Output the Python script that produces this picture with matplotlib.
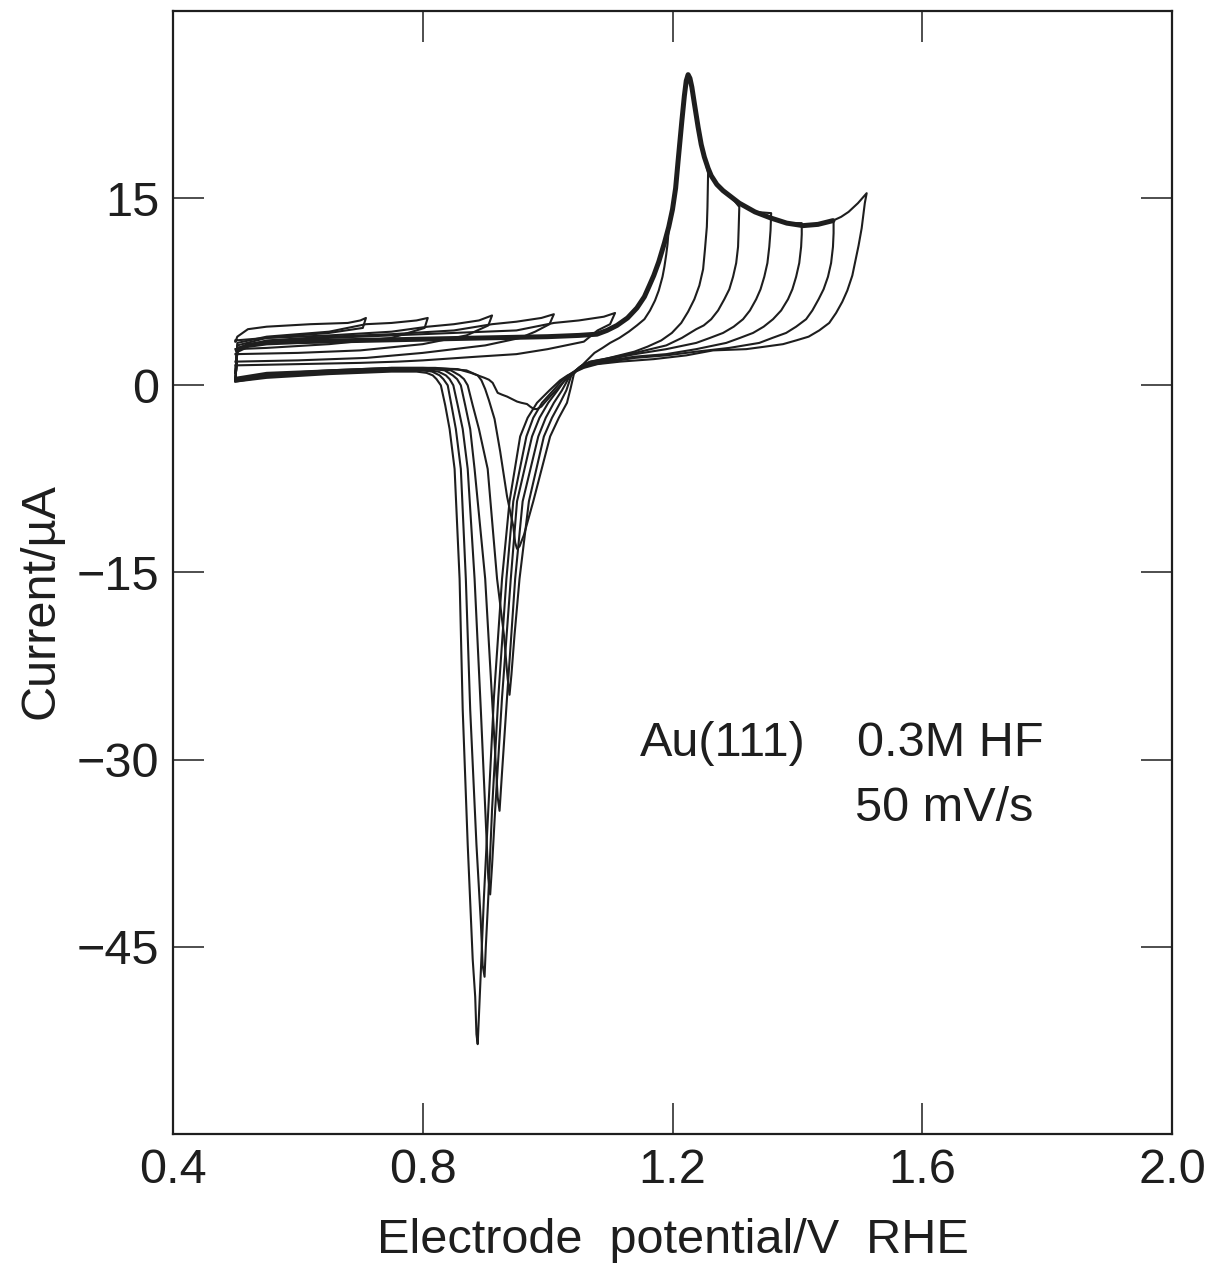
import matplotlib
matplotlib.use("Agg")
import matplotlib.pyplot as plt

plt.rcParams["font.family"] = ["Liberation Sans", "DejaVu Sans"]
plt.rcParams["axes.unicode_minus"] = True

# ---- data: (E / V RHE, I / uA) ----
X_TICKS = [0.4, 0.8, 1.2, 1.6, 2.0]
X_TICKLABELS = ["0.4", "0.8", "1.2", "1.6", "2.0"]
Y_TICKS = [15, 0, -15, -30, -45]
Y_TICKLABELS = ["15", "0", "\u221215", "\u221230", "\u221245"]

# positive-going sweep shared by the cycles that reach the oxide region
ANODIC = [(0.500, 0.4), (0.503, 2.8), (0.52, 3.2), (0.55, 3.4), (0.60, 3.5), (0.70, 3.6),
          (0.80, 3.7), (0.90, 3.8), (1.00, 3.9), (1.05, 4.0), (1.079, 4.1), (1.095, 4.4),
          (1.111, 4.8), (1.128, 5.4), (1.143, 6.2), (1.155, 7.1), (1.163, 8.0), (1.170, 8.8),
          (1.178, 9.9), (1.187, 11.4), (1.194, 12.7), (1.200, 14.1), (1.205, 15.8),
          (1.209, 18.0), (1.212, 19.6), (1.215, 21.2), (1.219, 23.2), (1.222, 24.4),
          (1.225, 24.9), (1.228, 24.6), (1.231, 23.9), (1.235, 22.6), (1.241, 20.7),
          (1.246, 19.3), (1.251, 18.3), (1.257, 17.4), (1.262, 16.8), (1.271, 16.1),
          (1.281, 15.6), (1.294, 15.1), (1.307, 14.6), (1.332, 13.9), (1.358, 13.4),
          (1.383, 13.0), (1.409, 12.8), (1.433, 12.9), (1.457, 13.2), (1.470, 13.5),
          (1.482, 13.9), (1.497, 14.6), (1.511, 15.4)]

# negative-going sweeps, one per upper potential limit
REV_1511 = [(1.511, 15.4), (1.508, 14.6), (1.503, 12.6), (1.498, 11.2), (1.488, 8.8),
            (1.480, 7.6), (1.472, 6.7), (1.462, 5.8), (1.451, 5.0), (1.435, 4.4),
            (1.418, 3.9), (1.398, 3.6), (1.377, 3.3), (1.348, 3.1), (1.318, 2.9),
            (1.265, 2.8), (1.222, 2.4), (1.170, 2.1), (1.116, 1.9), (1.080, 1.7),
            (1.058, 1.4), (1.045, 1.1), (1.032, 0.8), (1.020, 0.4), (1.003, -0.4),
            (0.983, -1.4), (0.968, -2.6), (0.956, -4.1), (0.939, -9.3), (0.927, -15.5),
            (0.914, -25.0), (0.905, -34.0), (0.898, -41.0), (0.893, -47.0), (0.890, -50.5),
            (0.888, -52.8), (0.886, -52.0), (0.884, -49.0), (0.880, -46.0), (0.872, -36.8),
            (0.864, -26.0), (0.859, -15.5), (0.851, -6.7), (0.843, -3.5), (0.836, -1.6),
            (0.829, 0.0), (0.822, 0.5), (0.816, 0.8), (0.806, 1.0), (0.790, 1.1),
            (0.75, 1.1), (0.65, 0.9), (0.55, 0.6), (0.50, 0.3)]

REV_1458 = [(1.458, 13.2), (1.458, 12.2), (1.457, 11.1), (1.454, 9.8), (1.449, 8.7),
            (1.442, 7.7), (1.434, 6.9), (1.424, 6.0), (1.414, 5.3), (1.398, 4.7),
            (1.382, 4.2), (1.360, 3.8), (1.339, 3.4), (1.291, 3.0), (1.238, 2.7),
            (1.19, 2.4), (1.14, 2.2), (1.10, 1.9), (1.065, 1.6), (1.047, 1.2),
            (1.036, 0.9), (1.025, 0.5), (1.009, -0.4), (0.991, -1.4), (0.977, -2.6),
            (0.966, -4.1), (0.945, -9.3), (0.934, -15.5), (0.921, -25.0), (0.911, -34.0),
            (0.905, -41.0), (0.901, -45.0), (0.899, -47.4), (0.896, -46.5), (0.893, -43.0),
            (0.886, -36.8), (0.876, -26.0), (0.869, -15.5), (0.861, -6.7), (0.853, -3.5),
            (0.846, -1.6), (0.840, 0.0), (0.833, 0.5), (0.827, 0.8), (0.815, 1.1),
            (0.80, 1.2), (0.75, 1.2), (0.65, 1.0), (0.55, 0.7), (0.50, 0.3)]

REV_1407 = [(1.407, 13.0), (1.407, 12.1), (1.406, 11.1), (1.403, 9.8), (1.398, 8.7),
            (1.392, 7.7), (1.385, 6.9), (1.374, 6.0), (1.361, 5.3), (1.346, 4.7),
            (1.329, 4.2), (1.308, 3.8), (1.286, 3.4), (1.238, 2.9), (1.19, 2.5),
            (1.14, 2.3), (1.10, 2.0), (1.065, 1.7), (1.048, 1.3), (1.039, 1.0),
            (1.030, 0.6), (1.016, -0.4), (1.001, -1.4), (0.987, -2.6), (0.975, -4.1),
            (0.951, -9.3), (0.941, -15.5), (0.927, -25.0), (0.916, -34.0), (0.911, -38.5),
            (0.908, -40.8), (0.905, -39.5), (0.901, -35.0), (0.893, -26.0), (0.883, -15.5),
            (0.872, -6.7), (0.864, -3.5), (0.856, -1.6), (0.849, 0.0), (0.843, 0.5),
            (0.837, 0.8), (0.825, 1.1), (0.81, 1.2), (0.75, 1.2), (0.65, 1.0),
            (0.55, 0.7), (0.50, 0.4)]

REV_1358 = [(1.358, 13.8), (1.357, 12.4), (1.355, 11.1), (1.352, 9.8), (1.347, 8.7),
            (1.341, 7.7), (1.334, 6.9), (1.324, 6.0), (1.313, 5.3), (1.298, 4.7),
            (1.281, 4.2), (1.260, 3.8), (1.238, 3.4), (1.19, 2.9), (1.14, 2.5),
            (1.10, 2.1), (1.065, 1.8), (1.050, 1.4), (1.042, 1.0), (1.035, 0.7),
            (1.023, -0.4), (1.010, -1.4), (0.997, -2.6), (0.985, -4.1), (0.960, -9.3),
            (0.948, -15.5), (0.935, -25.0), (0.927, -31.0), (0.923, -34.1), (0.920, -33.0),
            (0.916, -29.5), (0.912, -26.0), (0.900, -15.5), (0.883, -6.7), (0.876, -3.5),
            (0.868, -1.6), (0.861, 0.0), (0.855, 0.5), (0.848, 0.8), (0.835, 1.2),
            (0.82, 1.3), (0.75, 1.3), (0.65, 1.1), (0.55, 0.8), (0.50, 0.4)]

REV_1307 = [(1.307, 14.3), (1.306, 12.6), (1.305, 11.1), (1.302, 9.8), (1.297, 8.7),
            (1.291, 7.7), (1.283, 6.9), (1.273, 6.0), (1.262, 5.3), (1.250, 4.8),
            (1.238, 4.5), (1.215, 3.8), (1.19, 3.2), (1.14, 2.6), (1.10, 2.2),
            (1.068, 1.9), (1.052, 1.5), (1.045, 1.2), (1.038, 0.8), (1.030, -0.4),
            (1.020, -1.4), (1.007, -2.6), (0.994, -4.1), (0.970, -9.3), (0.955, -15.5),
            (0.947, -20.0), (0.942, -23.2), (0.939, -24.8), (0.936, -23.5), (0.930, -20.0),
            (0.919, -15.5), (0.904, -6.7), (0.890, -3.5), (0.880, -1.6), (0.872, 0.0),
            (0.866, 0.5), (0.859, 0.8), (0.845, 1.2), (0.82, 1.3), (0.75, 1.3),
            (0.65, 1.1), (0.55, 0.8), (0.50, 0.5)]

REV_1257 = [(1.257, 17.0), (1.256, 14.3), (1.255, 12.7), (1.252, 10.9), (1.249, 9.3),
            (1.243, 8.0), (1.235, 6.9), (1.225, 5.9), (1.214, 5.0), (1.199, 4.2),
            (1.182, 3.6), (1.160, 3.1), (1.139, 2.7), (1.091, 2.1), (1.070, 1.9),
            (1.055, 1.6), (1.048, 1.3), (1.042, 0.9), (1.037, -0.2), (1.031, -1.4),
            (1.018, -2.6), (1.004, -4.1), (0.977, -9.3), (0.962, -12.0), (0.955, -12.9),
            (0.951, -13.1), (0.948, -12.6), (0.945, -11.3), (0.935, -8.9), (0.924, -5.3),
            (0.915, -2.7), (0.906, -1.2), (0.900, -0.3), (0.894, 0.4), (0.888, 0.8),
            (0.870, 1.2), (0.82, 1.4), (0.75, 1.4), (0.65, 1.2), (0.55, 0.9), (0.50, 0.5)]

REV_1194 = [(1.194, 12.5), (1.192, 11.3), (1.190, 10.5), (1.187, 9.5), (1.184, 8.7),
            (1.178, 7.6), (1.172, 6.8), (1.164, 6.0), (1.155, 5.3), (1.143, 4.8),
            (1.13, 4.3), (1.115, 3.8), (1.10, 3.4), (1.088, 3.0), (1.075, 2.6),
            (1.065, 2.1), (1.055, 1.6), (1.047, 1.2), (1.04, 0.9), (1.026, 0.3),
            (1.015, -0.3), (1.004, -0.9), (0.995, -1.4), (0.990, -1.7), (0.983, -1.9),
            (0.978, -1.9), (0.972, -1.7), (0.967, -1.5), (0.958, -1.4), (0.951, -1.3),
            (0.943, -1.1), (0.935, -0.9), (0.927, -0.75), (0.920, -0.6), (0.916, -0.2),
            (0.912, 0.2), (0.906, 0.45), (0.899, 0.6), (0.888, 0.8), (0.877, 1.0),
            (0.856, 1.3), (0.80, 1.4), (0.75, 1.4), (0.65, 1.2), (0.55, 1.0), (0.50, 0.6)]

# double-layer cycles (upper limit below the oxide region), full loops
DL_0709 = [(0.500, 3.5), (0.503, 3.9), (0.52, 4.5), (0.55, 4.7), (0.62, 4.9), (0.68, 5.0),
           (0.700, 5.2), (0.709, 5.4), (0.704, 4.6), (0.65, 4.2), (0.55, 3.8), (0.50, 3.6)]
DL_0808 = [(0.500, 1.0), (0.503, 3.4), (0.55, 3.9), (0.65, 4.3), (0.709, 4.9), (0.75, 5.0),
           (0.79, 5.2), (0.808, 5.4), (0.803, 4.6), (0.75, 3.8), (0.65, 3.3), (0.55, 3.0),
           (0.50, 2.9)]
DL_0911 = [(0.500, 1.0), (0.503, 3.2), (0.55, 3.8), (0.65, 4.0), (0.75, 4.3), (0.808, 4.7),
           (0.85, 4.9), (0.89, 5.2), (0.911, 5.6), (0.905, 4.8), (0.87, 4.0), (0.80, 3.3),
           (0.70, 2.8), (0.60, 2.6), (0.50, 2.5)]
DL_1010 = [(0.500, 1.0), (0.503, 3.0), (0.55, 3.6), (0.65, 3.9), (0.75, 4.1), (0.85, 4.4),
           (0.911, 4.9), (0.95, 5.1), (0.99, 5.4), (1.010, 5.7), (1.003, 4.9), (0.98, 4.3),
           (0.956, 3.8), (0.90, 3.2), (0.80, 2.6), (0.71, 2.2), (0.60, 2.0), (0.50, 1.9)]
DL_1108 = [(0.500, 1.0), (0.503, 3.0), (0.55, 3.5), (0.65, 3.8), (0.75, 4.0), (0.85, 4.2),
           (0.95, 4.4), (1.010, 5.0), (1.05, 5.2), (1.09, 5.5), (1.108, 5.8), (1.100, 4.9),
           (1.08, 4.4), (1.058, 3.5), (1.00, 2.9), (0.95, 2.5), (0.888, 2.3), (0.80, 2.0),
           (0.76, 1.9), (0.70, 1.8), (0.60, 1.7), (0.50, 1.6)]

LABEL_LINE1 = ("Au(111)", "0.3M HF")
LABEL_LINE2 = "50 mV/s"

INK = "#1e1e1e"
FS = 35
LW = 1.5

fig = plt.figure(figsize=(12.16, 12.69), dpi=100)
ax = fig.add_axes([173 / 1216, 135 / 1269, 999 / 1216, 1123 / 1269])
ax.set_xlim(0.4, 2.0)
ax.set_ylim(-60, 30)

# double-layer loops
for loop in [DL_0709, DL_0808, DL_0911, DL_1010, DL_1108]:
    e, i = zip(*loop)
    ax.plot(e, i, color=INK, lw=LW, solid_joinstyle="round")

# oxide-region loops: shared anodic sweep up to the vertex, then the return sweep
for rev in [REV_1194, REV_1257, REV_1307, REV_1358, REV_1407, REV_1458, REV_1511]:
    upper = rev[0][0]
    loop = [p for p in ANODIC if p[0] < upper] + rev
    e, i = zip(*loop)
    ax.plot(e, i, color=INK, lw=LW, solid_joinstyle="round")

# the overlapping anodic sweeps print as one heavy line
heavy = [p for p in ANODIC[1:] if p[0] <= 1.46]
e, i = zip(*heavy)
ax.plot(e, i, color=INK, lw=3.6, solid_joinstyle="round", solid_capstyle="round")

ax.text(1.147, -29.7, LABEL_LINE1[0], fontsize=FS, color=INK, ha="left", va="baseline")
ax.text(1.495, -29.7, LABEL_LINE1[1], fontsize=FS, color=INK, ha="left", va="baseline")
ax.text(1.492, -34.9, LABEL_LINE2, fontsize=FS, color=INK, ha="left", va="baseline")

ax.set_xticks(X_TICKS)
ax.set_xticklabels(X_TICKLABELS)
ax.set_yticks(Y_TICKS)
ax.set_yticklabels(Y_TICKLABELS)
ax.tick_params(direction="in", length=22, width=1.1, labelsize=FS, colors=INK,
               top=True, right=True, pad=10)
for sp in ax.spines.values():
    sp.set_linewidth(1.6)
    sp.set_color(INK)

ax.set_xlabel("Electrode  potential/V  RHE", fontsize=FS, color=INK, labelpad=18)
ax.set_ylabel("Current/\u00b5A", fontsize=FS, color=INK)
ax.yaxis.set_label_coords(-0.11, 0.475)

fig.savefig("out.png", dpi=100, facecolor="white")
